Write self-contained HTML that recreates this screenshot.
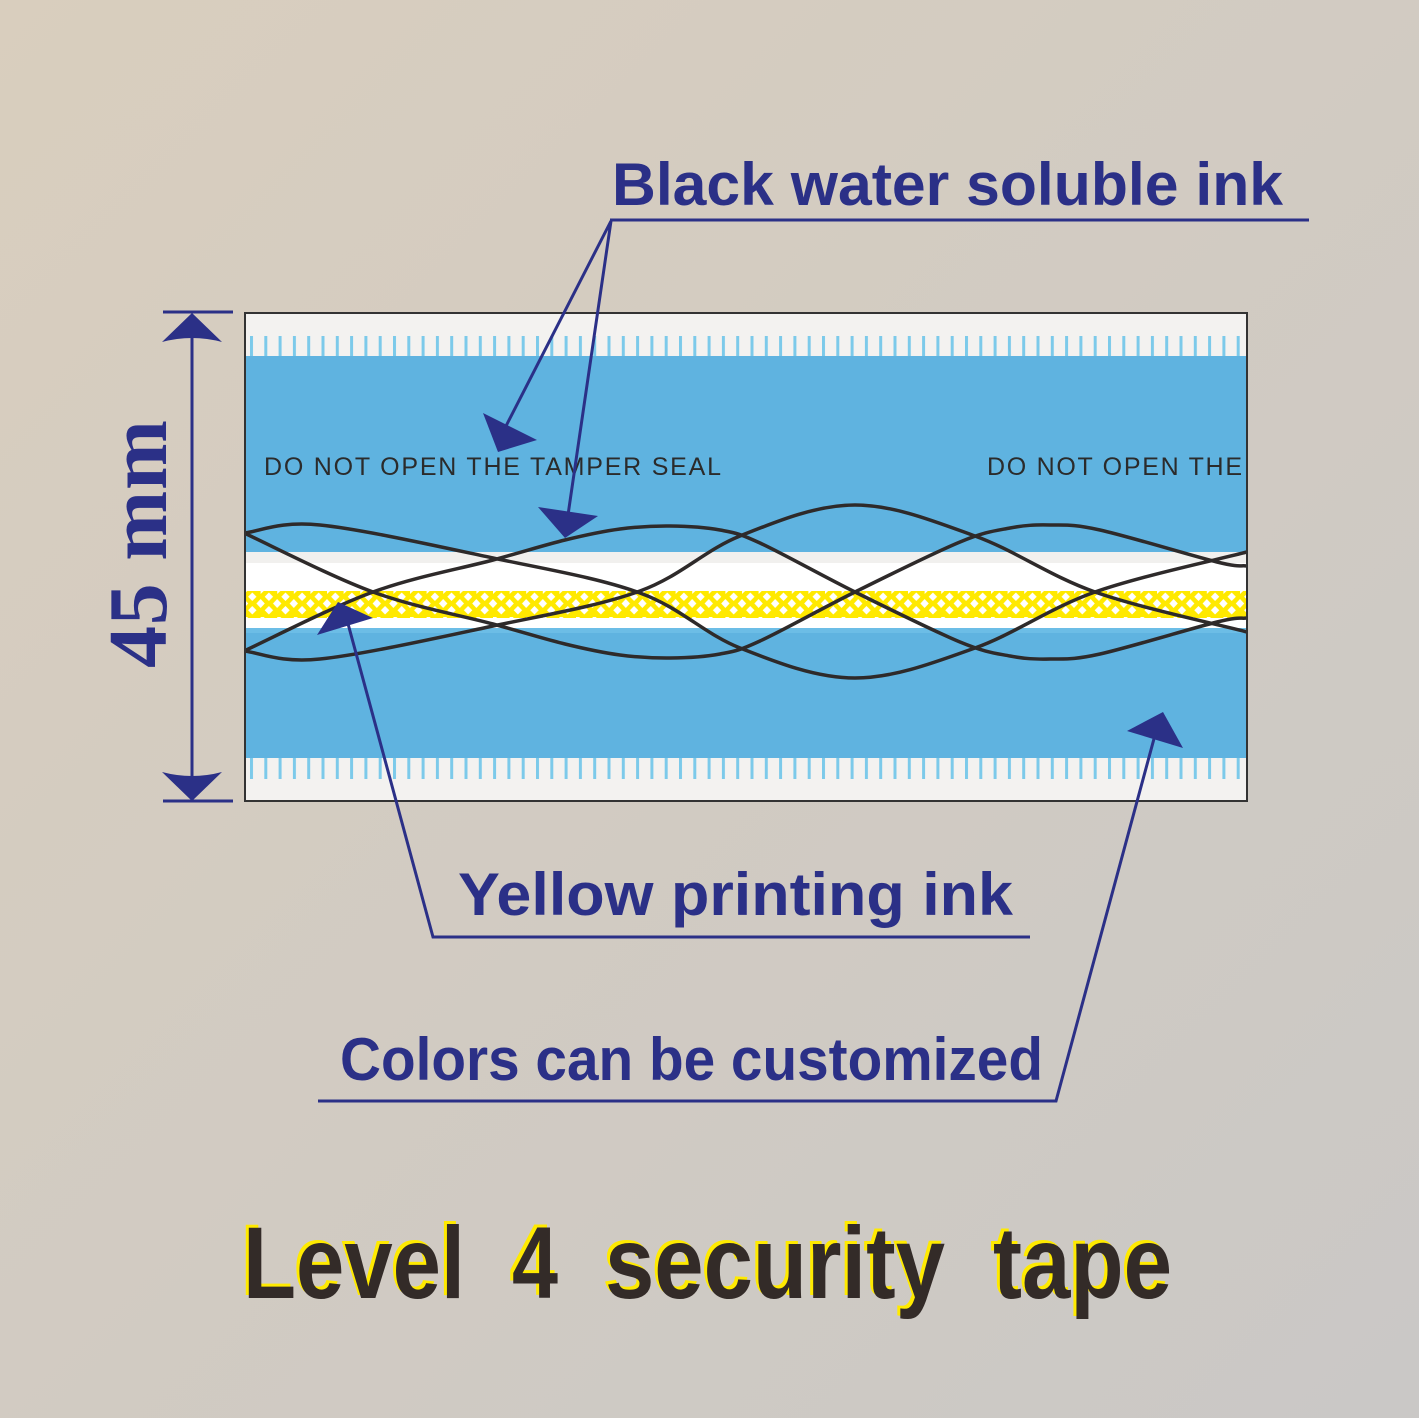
<!DOCTYPE html>
<html><head><meta charset="utf-8">
<style>
html,body{margin:0;padding:0;width:1419px;height:1418px;overflow:hidden}
svg{display:block}
.lbl{font-family:"Liberation Sans",sans-serif;font-weight:bold;fill:#2b3087}
</style></head>
<body>
<svg id="s" width="1419" height="1418" viewBox="0 0 1419 1418" xmlns="http://www.w3.org/2000/svg">
<defs>
<linearGradient id="bg" x1="0" y1="0" x2="1" y2="1">
<stop offset="0" stop-color="#d9cebe"/><stop offset="1" stop-color="#cac8c6"/>
</linearGradient>
<pattern id="ticks" x="250" y="0" width="14.3" height="20" patternUnits="userSpaceOnUse">
<rect x="0" y="0" width="3" height="20" fill="#7ccaea"/>
</pattern>
<pattern id="dia" x="244" y="590" width="16.6" height="27" patternUnits="userSpaceOnUse">
<rect width="16.6" height="27" fill="#ffe900"/>
<polygon points="8.3,2.5 12.5,6.75 8.3,11 4.1,6.75" fill="#fff"/>
<polygon points="8.3,16 12.5,20.25 8.3,24.5 4.1,20.25" fill="#fff"/>
<polygon points="0,9 4.2,13.5 0,18 -4.2,13.5" fill="#fff"/>
<polygon points="16.6,9 20.8,13.5 16.6,18 12.4,13.5" fill="#fff"/>
<polygon points="0,-4 4.2,0 0,4" fill="#fff"/>
</pattern>
<clipPath id="tape"><rect x="245" y="313" width="1002" height="488"/></clipPath>
</defs>
<rect width="1419" height="1418" fill="url(#bg)"/>

<g clip-path="url(#tape)">
<rect x="244" y="312" width="1004" height="490" fill="#f3f2f0"/>
<rect x="244" y="336" width="1004" height="20" fill="url(#ticks)"/>
<rect x="244" y="356" width="1004" height="196" fill="#5fb3e0"/>
<rect x="244" y="552" width="1004" height="11" fill="#f1f0ee"/>
<rect x="244" y="563" width="1004" height="65" fill="#ffffff"/>
<rect x="244" y="591" width="1004" height="27" fill="url(#dia)"/>
<rect x="244" y="628" width="1004" height="130" fill="#5fb3e0"/>
<rect x="244" y="628" width="1004" height="5" fill="#6cbde6"/>
<rect x="244" y="758" width="1004" height="21" fill="url(#ticks)"/>
<text x="264" y="475" font-family="Liberation Sans,sans-serif" font-size="25" fill="#2b2b2b" textLength="457">DO NOT OPEN THE TAMPER SEAL</text>
<text x="987" y="475" font-family="Liberation Sans,sans-serif" font-size="25" fill="#2b2b2b" textLength="255">DO NOT OPEN THE</text>
<g id="curves" fill="none" stroke="#2e2a2a" stroke-width="3.5"></g>
</g>
<rect x="245" y="313" width="1002" height="488" fill="none" stroke="#333" stroke-width="2"/>

<g fill="#2b3087" stroke="#2b3087">
<line x1="163" y1="312" x2="233" y2="312" stroke-width="3"/>
<line x1="163" y1="801" x2="233" y2="801" stroke-width="3"/>
<line x1="192" y1="320" x2="192" y2="795" stroke-width="3"/>
<path d="M192,313 L222,342 Q192,334 162,342 Z" stroke="none"/>
<path d="M192,801 L222,772 Q192,780 162,772 Z" stroke="none"/>
</g>
<text transform="translate(166,668) rotate(-90)" font-family="Liberation Serif,serif" font-weight="bold" font-size="84" fill="#2b3087" textLength="248">45 mm</text>

<text class="lbl" x="612" y="205" font-size="60" textLength="671" lengthAdjust="spacingAndGlyphs">Black water soluble ink</text>
<line x1="610" y1="220" x2="1309" y2="220" stroke="#2b3087" stroke-width="3"/>
<text class="lbl" x="458" y="915" font-size="60" textLength="555" lengthAdjust="spacingAndGlyphs">Yellow printing ink</text>
<text class="lbl" x="340" y="1080" font-size="60" textLength="703" lengthAdjust="spacingAndGlyphs">Colors can be customized</text>

<g stroke="#2b3087" stroke-width="3" fill="none">
<polyline points="505,428 611,221 568,515"/>
<polyline points="347,620 433,937 1030,937"/>
<polyline points="318,1101 1056,1101 1155,735"/>
</g>
<g fill="#2b3087">
<polygon points="498,452 483,413 537,440"/>
<polygon points="565,538 538,507 598,516"/>
<polygon points="317,635 338,602 373,618"/>
<polygon points="1163,712 1127,731 1183,748"/>
</g>

<g font-family="Liberation Sans,sans-serif" font-weight="bold" font-size="102" lengthAdjust="spacingAndGlyphs">
<g fill="#ffea00" transform="translate(-3,-3)">
<text x="243" y="1298" textLength="222" lengthAdjust="spacingAndGlyphs">Level</text>
<text x="512" y="1298" textLength="46" lengthAdjust="spacingAndGlyphs">4</text>
<text x="605" y="1298" textLength="340" lengthAdjust="spacingAndGlyphs">security</text>
<text x="993" y="1298" textLength="179" lengthAdjust="spacingAndGlyphs">tape</text>
</g>
<g fill="#332b28">
<text x="243" y="1298" textLength="222" lengthAdjust="spacingAndGlyphs">Level</text>
<text x="512" y="1298" textLength="46" lengthAdjust="spacingAndGlyphs">4</text>
<text x="605" y="1298" textLength="340" lengthAdjust="spacingAndGlyphs">security</text>
<text x="993" y="1298" textLength="179" lengthAdjust="spacingAndGlyphs">tape</text>
</g>
</g>
</svg>
<script>
var curves=[
[[230,651],[244,651],[320,659],[493,626],[640,591],[740,536],[855,505],[975,536],[1095,592],[1247,632],[1262,636]],
[[230,533],[244,533],[320,525],[493,558],[640,593],[740,648],[855,678],[975,648],[1095,592],[1247,552],[1262,548]],
[[230,657],[244,651],[373,592],[493,560],[565,540],[620,529],[670,526],[720,530],[760,543],[855,592],[960,642],[1010,656],[1050,659],[1100,654],[1217,622],[1247,618],[1262,616]],
[[230,527],[244,533],[373,592],[493,624],[565,644],[620,655],[670,658],[720,654],[760,641],[855,592],[960,542],[1010,528],[1050,525],[1100,530],[1217,562],[1247,566],[1262,568]]
];
var g=document.getElementById('curves');
curves.forEach(function(p){
 var d='M'+p[0][0]+','+p[0][1];
 for(var i=0;i<p.length-1;i++){
  var p0=p[Math.max(i-1,0)],p1=p[i],p2=p[i+1],p3=p[Math.min(i+2,p.length-1)];
  var c1=[p1[0]+(p2[0]-p0[0])/6,p1[1]+(p2[1]-p0[1])/6];
  var c2=[p2[0]-(p3[0]-p1[0])/6,p2[1]-(p3[1]-p1[1])/6];
  d+=' C'+c1[0]+','+c1[1]+' '+c2[0]+','+c2[1]+' '+p2[0]+','+p2[1];
 }
 var e=document.createElementNS('http://www.w3.org/2000/svg','path');
 e.setAttribute('d',d);g.appendChild(e);
});
</script>
</body></html>
